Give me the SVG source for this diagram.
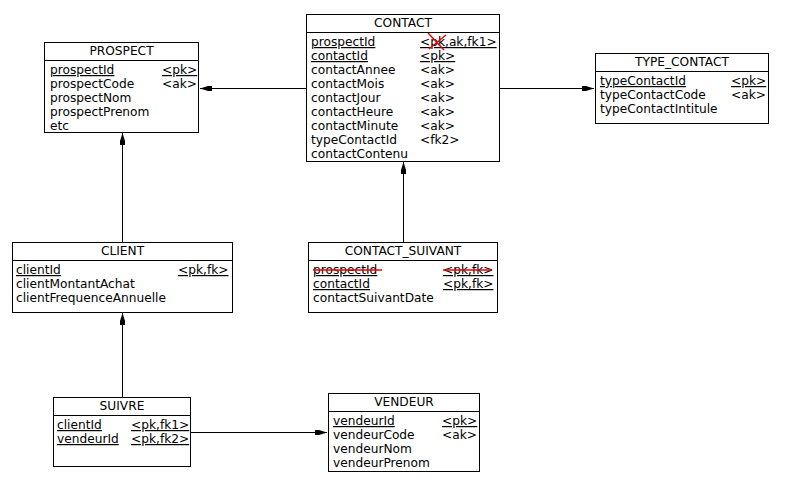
<svg xmlns="http://www.w3.org/2000/svg" width="791" height="480" viewBox="0 0 791 480">
<defs>
<marker id="ah" viewBox="0 0 12 8" refX="12" refY="4" markerWidth="12" markerHeight="8" markerUnits="userSpaceOnUse" orient="auto">
<path d="M0,1.5 L4,1.5 L12,4 L4,6.5 L0,6.5 Z" fill="#000"/>
</marker>
<style>
rect.box{fill:#fff;stroke:#000;stroke-width:1}
line.sep{stroke:#000;stroke-width:1}
text{font-family:"DejaVu Sans","Liberation Sans",sans-serif;font-size:12.2px;fill:#000}
text.t{text-anchor:middle}
text.u{text-decoration:underline}
.c line{stroke:#000;stroke-width:1;marker-end:url(#ah)}
.red{stroke:#e00;stroke-width:1.5}
</style>
</defs>
<rect width="791" height="480" fill="#fff"/>
<g class="c" id="connectors">
<line x1="306" y1="88.5" x2="200" y2="88.5"/>
<line x1="500" y1="88.5" x2="594" y2="88.5"/>
<line x1="122.5" y1="242" x2="122.5" y2="133"/>
<line x1="403.5" y1="242" x2="403.5" y2="162"/>
<line x1="122.5" y1="397" x2="122.5" y2="313"/>
<line x1="190" y1="432.5" x2="327" y2="432.5"/>
</g>
<g id="CONTACT">
<rect class="box" x="306.5" y="14.5" width="193" height="147"/>
<line class="sep" x1="306.5" y1="32.5" x2="499.5" y2="32.5"/>
<text class="t" x="403" y="27">CONTACT</text>
<text class="u" x="311" y="46">prospectId</text><text class="u" x="420" y="46">&lt;pk,ak,fk1&gt;</text>
<text class="u" x="311" y="60">contactId</text><text class="u" x="420" y="60">&lt;pk&gt;</text>
<text x="311" y="74">contactAnnee</text><text x="420" y="74">&lt;ak&gt;</text>
<text x="311" y="88">contactMois</text><text x="420" y="88">&lt;ak&gt;</text>
<text x="311" y="102">contactJour</text><text x="420" y="102">&lt;ak&gt;</text>
<text x="311" y="116">contactHeure</text><text x="420" y="116">&lt;ak&gt;</text>
<text x="311" y="130">contactMinute</text><text x="420" y="130">&lt;ak&gt;</text>
<text x="311" y="144">typeContactId</text><text x="420" y="144">&lt;fk2&gt;</text>
<text x="311" y="158">contactContenu</text>
<line class="red" x1="428" y1="33" x2="444" y2="50"/>
<line class="red" x1="429" y1="49" x2="446" y2="35"/>
</g>
<g id="PROSPECT">
<rect class="box" x="44.5" y="42.5" width="154" height="90"/>
<line class="sep" x1="44.5" y1="60.5" x2="198.5" y2="60.5"/>
<text class="t" x="121.5" y="55">PROSPECT</text>
<text class="u" x="50" y="74">prospectId</text><text class="u" x="162" y="74">&lt;pk&gt;</text>
<text x="50" y="88">prospectCode</text><text x="162" y="88">&lt;ak&gt;</text>
<text x="50" y="102">prospectNom</text>
<text x="50" y="116">prospectPrenom</text>
<text x="50" y="130">etc</text>
</g>
<g id="TYPE_CONTACT">
<rect class="box" x="595.5" y="53.5" width="173" height="70"/>
<line class="sep" x1="595.5" y1="71.5" x2="768.5" y2="71.5"/>
<text class="t" x="682" y="66">TYPE_CONTACT</text>
<text class="u" x="600" y="85">typeContactId</text><text class="u" x="731" y="85">&lt;pk&gt;</text>
<text x="600" y="99">typeContactCode</text><text x="731" y="99">&lt;ak&gt;</text>
<text x="600" y="113">typeContactIntitule</text>
</g>
<g id="CLIENT">
<rect class="box" x="12.5" y="242.5" width="220" height="70"/>
<line class="sep" x1="12.5" y1="260.5" x2="232.5" y2="260.5"/>
<text class="t" x="122.5" y="255">CLIENT</text>
<text class="u" x="16" y="274">clientId</text><text class="u" x="178" y="274">&lt;pk,fk&gt;</text>
<text x="16" y="288">clientMontantAchat</text>
<text x="16" y="302">clientFrequenceAnnuelle</text>
</g>
<g id="CONTACT_SUIVANT">
<rect class="box" x="308.5" y="242.5" width="189" height="70"/>
<line class="sep" x1="308.5" y1="260.5" x2="497.5" y2="260.5"/>
<text class="t" x="403" y="255">CONTACT_SUIVANT</text>
<text class="u" x="313" y="274">prospectId</text><text class="u" x="443" y="274">&lt;pk,fk&gt;</text>
<text class="u" x="313" y="288">contactId</text><text class="u" x="443" y="288">&lt;pk,fk&gt;</text>
<text x="313" y="302">contactSuivantDate</text>
<line class="red" x1="313" y1="270" x2="382" y2="270"/>
<line class="red" x1="443" y1="270" x2="492" y2="270"/>
</g>
<g id="SUIVRE">
<rect class="box" x="53.5" y="397.5" width="137" height="69"/>
<line class="sep" x1="53.5" y1="415.5" x2="190.5" y2="415.5"/>
<text class="t" x="122" y="410">SUIVRE</text>
<text class="u" x="57" y="429">clientId</text><text class="u" x="131" y="429">&lt;pk,fk1&gt;</text>
<text class="u" x="57" y="443">vendeurId</text><text class="u" x="131" y="443">&lt;pk,fk2&gt;</text>
</g>
<g id="VENDEUR">
<rect class="box" x="328.5" y="393.5" width="151" height="78"/>
<line class="sep" x1="328.5" y1="411.5" x2="479.5" y2="411.5"/>
<text class="t" x="404" y="406">VENDEUR</text>
<text class="u" x="333" y="425">vendeurId</text><text class="u" x="442" y="425">&lt;pk&gt;</text>
<text x="333" y="439">vendeurCode</text><text x="442" y="439">&lt;ak&gt;</text>
<text x="333" y="453">vendeurNom</text>
<text x="333" y="467">vendeurPrenom</text>
</g>
</svg>
